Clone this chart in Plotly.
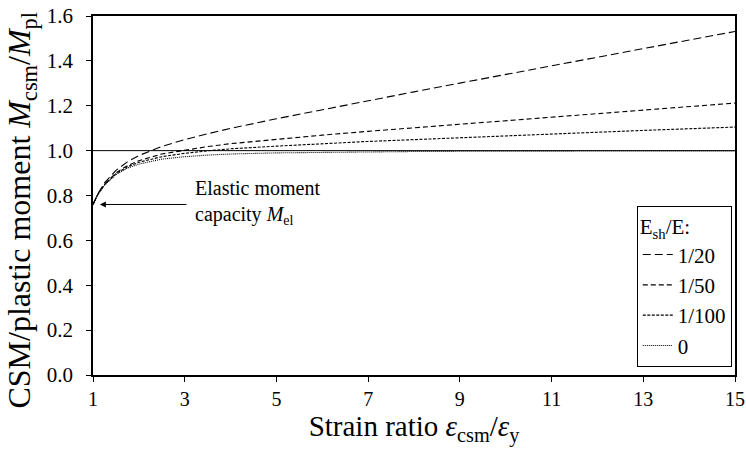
import plotly.graph_objects as go

strain = [1, 1.1, 1.25, 1.5, 1.75, 2, 2.5, 3, 3.5, 4, 5, 6, 7, 8, 9, 10, 11, 12, 13, 14, 15]
m_1_20 = [0.76, 0.806, 0.856, 0.912, 0.950, 0.978, 1.019, 1.049, 1.075, 1.099, 1.142, 1.183,
          1.223, 1.262, 1.301, 1.340, 1.378, 1.416, 1.455, 1.493, 1.531]
m_1_50 = [0.76, 0.803, 0.850, 0.901, 0.933, 0.955, 0.985, 1.003, 1.018, 1.031, 1.051, 1.069,
          1.086, 1.102, 1.119, 1.135, 1.150, 1.165, 1.181, 1.197, 1.212]
m_1_100 = [0.76, 0.803, 0.848, 0.897, 0.928, 0.948, 0.973, 0.988, 0.999, 1.008, 1.020, 1.031,
           1.041, 1.049, 1.058, 1.066, 1.074, 1.082, 1.090, 1.098, 1.105]
m_0 = [0.76, 0.802, 0.846, 0.893, 0.922, 0.940, 0.962, 0.973, 0.980, 0.985, 0.990, 0.993,
       0.995, 0.996, 0.997, 0.998, 0.998, 0.998, 0.999, 0.999, 0.999]

series_names = ["1/20", "1/50", "1/100", "0"]
series_vals = [m_1_20, m_1_50, m_1_100, m_0]
dashes = ["8px,4px", "5px,3px", "3px,1.5px", "1px,1px"]

x_ticks = [1, 3, 5, 7, 9, 11, 13, 15]
y_ticks = [0.0, 0.2, 0.4, 0.6, 0.8, 1.0, 1.2, 1.4, 1.6]

FONT = "Liberation Serif"

fig = go.Figure()
for name, vals, d in zip(series_names, series_vals, dashes):
    fig.add_trace(go.Scatter(x=strain, y=vals, mode="lines", name=name,
                             line=dict(color="black", width=1.1, dash=d)))

fig.add_hline(y=1.0, line=dict(color="black", width=1))

fig.add_annotation(x=1.15, y=0.76, ax=3.07, ay=0.76, axref="x", ayref="y",
                   xref="x", yref="y", text="", showarrow=True,
                   arrowhead=2, arrowsize=1.2, arrowwidth=1, arrowcolor="black")
fig.add_annotation(x=3.18, y=0.77, xref="x", yref="y", xanchor="left", yanchor="middle",
                   align="left", showarrow=False,
                   text="Elastic moment<br>capacity <i>M</i><sub>el</sub>",
                   font=dict(family=FONT, size=20, color="black"))

# y-axis title as rotated annotation (positioned like the reference)
fig.add_annotation(x=-0.111, y=0.46, xref="paper", yref="paper",
                   xanchor="center", yanchor="middle", textangle=-90, showarrow=False,
                   text="CSM/plastic moment <i>M</i><sub>csm</sub>/<i>M</i><sub>pl</sub>",
                   font=dict(family=FONT, size=32, color="black"))

fig.update_layout(
    width=746, height=454,
    margin=dict(l=93, r=11, t=16, b=79),
    paper_bgcolor="white", plot_bgcolor="white",
    font=dict(family=FONT, color="black"),
    showlegend=True,
    legend=dict(
        title=dict(text="E<sub>sh</sub>/E:", font=dict(family=FONT, size=21)),
        font=dict(family=FONT, size=21),
        x=0.995, xanchor="right", y=0.022, yanchor="bottom",
        bordercolor="black", borderwidth=1, bgcolor="white",
        itemwidth=30, tracegroupgap=0,
    ),
    xaxis=dict(
        range=[1, 15], tickvals=x_ticks, ticktext=[str(v) for v in x_ticks],
        showgrid=False, zeroline=False, showline=True, mirror=True, automargin=False,
        linecolor="black", linewidth=1.5, ticks="outside", ticklen=5,
        tickcolor="black", tickfont=dict(family=FONT, size=20),
        title=dict(text="Strain ratio <i>ε</i><sub>csm</sub>/<i>ε</i><sub>y</sub>",
                   font=dict(family=FONT, size=29), standoff=4),
    ),
    yaxis=dict(
        range=[0, 1.6], tickvals=y_ticks, ticktext=[f"{v:.1f}" for v in y_ticks],
        showgrid=False, zeroline=False, showline=True, mirror=True, automargin=False,
        linecolor="black", linewidth=1.5, ticks="outside", ticklen=5,
        tickcolor="black", tickfont=dict(family=FONT, size=21), ticklabelstandoff=9,
    ),
)

fig.write_html("out.html", config={"displayModeBar": False},
               post_script="document.body.style.margin='0';")
